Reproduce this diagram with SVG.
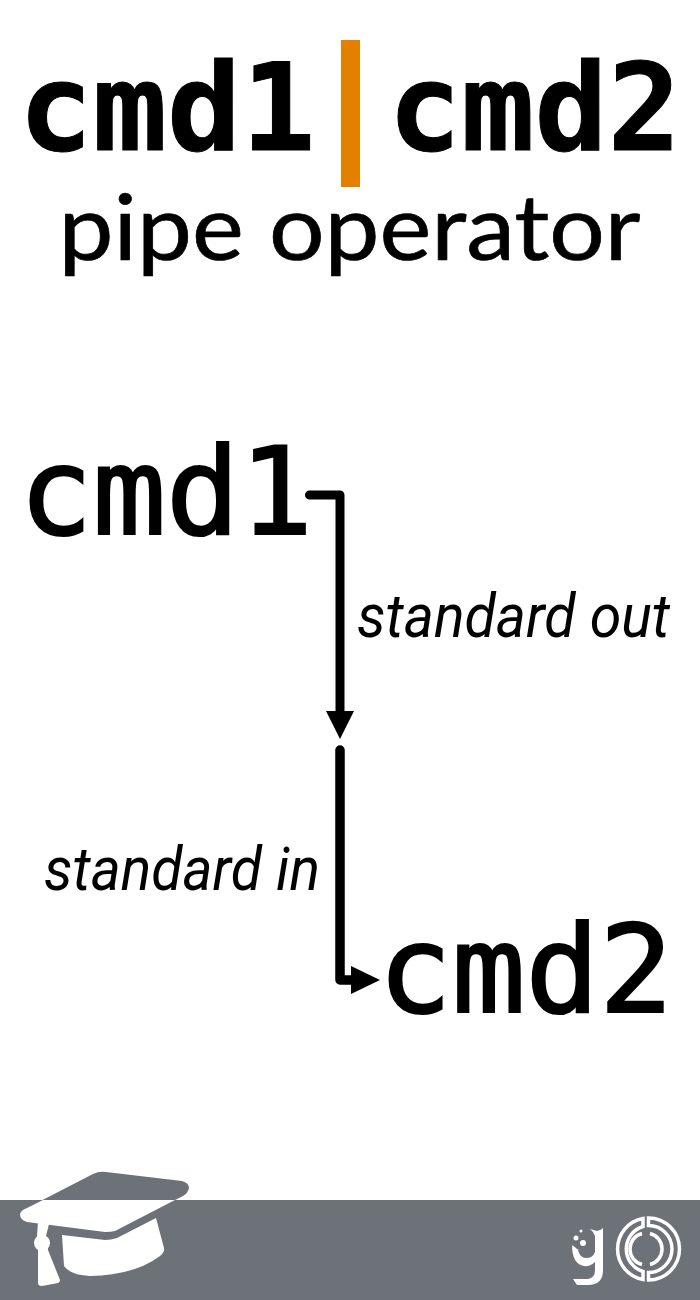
<svg xmlns="http://www.w3.org/2000/svg" width="700" height="1300" viewBox="0 0 700 1300">
<style>
.t{font-family:"DejaVu Sans Mono","Liberation Mono",monospace;fill:#000;stroke:#000}
.b{font-weight:700;font-size:122px;stroke-width:1}
.r{font-size:122px;stroke-width:2.2}
.i{font-family:Roboto,"Liberation Sans",sans-serif;font-style:italic;font-size:61px;fill:#000}
.c{fill:none;stroke:#000;stroke-linecap:round;stroke-linejoin:round}
.ring{fill:none;stroke:#fff;stroke-width:3.5}
</style>
<rect width="700" height="1300" fill="#fff"/>
<g id="title">
<text class="t b" x="18.5" y="150" textLength="297" lengthAdjust="spacingAndGlyphs">cmd1</text>
<rect x="341" y="40" width="19" height="147" fill="#e38000"/>
<text class="t b" x="388" y="150" textLength="293" lengthAdjust="spacingAndGlyphs">cmd2</text>
<text x="349.500" y="260" text-anchor="middle" font-family="Lato,'Noto Sans',sans-serif" font-size="92" stroke="#000" stroke-width="0.7" textLength="582" lengthAdjust="spacingAndGlyphs">pipe operator</text>
</g>
<g id="connectors">
<path class="c" stroke-width="9" d="M309.500 495H340V715"/>
<path d="M326 711H354L340 739Z" fill="#000"/>
<path class="c" stroke-width="9.500" d="M340 750V980H354"/>
<path d="M351 966L380 980L351 994Z" fill="#000"/>
</g>
<g id="cmd1"><text class="t r" x="19" y="534" textLength="294" lengthAdjust="spacingAndGlyphs">cmd1</text></g>
<g id="cmd2"><text class="t r" x="378" y="1012" textLength="295" lengthAdjust="spacingAndGlyphs">cmd2</text></g>
<g id="standard-out"><text class="i" x="357" y="637" textLength="313" lengthAdjust="spacingAndGlyphs">standard out</text></g>
<g id="standard-in"><text class="i" x="44" y="890" textLength="276" lengthAdjust="spacingAndGlyphs">standard in</text></g>
<g id="footer">
<rect y="1200" width="700" height="100" fill="#6d7178"/>
</g>
<g id="cap">
<path d="M93 1174Q99 1171 106 1172L182 1181Q189 1183 189 1188Q188 1193 183 1196L115 1231Q111 1232 105 1232L27 1222Q20 1220 20 1214Q21 1210 27 1208Z" fill="#6d7178"/>
<path d="M43 1200H175L115 1231Q111 1232 105 1232L27 1222Q20 1220 20 1214Q21 1210 27 1208Z" fill="#fff"/>
<path d="M62 1235L105 1240Q111 1240 117 1238L156 1218L164 1248Q165 1252 160 1256Q135 1275 90 1276Q70 1275 64 1266Z" fill="#fff"/>
<path d="M38 1222L49 1224L46 1236L48 1250L60 1280Q60 1282 58 1283L42 1286Q38 1286 38 1283L38 1250L37 1236Z" fill="#fff"/>
<circle cx="42" cy="1243" r="8" fill="#fff"/>
</g>
<g id="logo">
<path class="ring" d="M643 1218.500A31 31 0 0 0 643 1279.500V1271.500A23.500 23.500 0 0 1 643 1226.500Z"/>
<path class="ring" d="M648.500 1218A31 31 0 0 1 648.500 1280V1272.500A23.500 23.500 0 0 0 648.500 1225.500Z"/>
<path class="ring" d="M642 1233.500A16 16 0 0 0 642 1264.500"/>
<path class="ring" d="M650 1233.500A16 16 0 0 1 650 1264.500"/>
</g>
<g id="logo-g" fill="#fff">
<path d="M603 1228V1270Q603 1285 588 1285H577L573 1279H588Q595 1278 595 1270V1262Q590 1267 584 1266Q572 1264 572 1245L576 1248Q577 1250 580 1250H595V1236Q593 1231 590 1229L597 1231Q600 1231 603 1228Z"/>
<circle cx="576" cy="1238" r="2.500"/><circle cx="583" cy="1243" r="3"/><circle cx="581" cy="1231" r="1.500"/>
<path d="M578 1250H595V1252Q593 1258 586 1258Q580 1258 578 1250Z" fill="#6d7178"/>
</g>
</svg>
